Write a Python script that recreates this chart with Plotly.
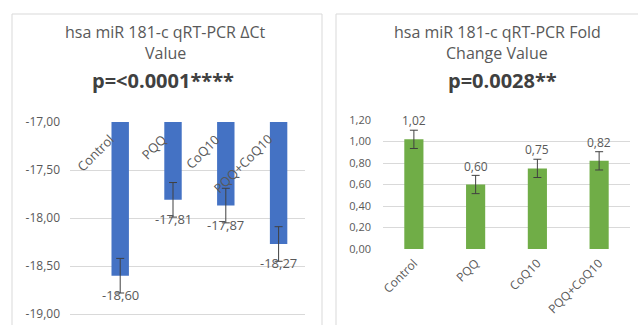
import plotly.graph_objects as go

categories = ["Control", "PQQ", "CoQ10", "PQQ+CoQ10"]
dct_values = [-18.60, -17.81, -17.87, -18.27]
dct_errors = [0.18, 0.18, 0.18, 0.18]
fold_values = [1.02, 0.60, 0.75, 0.82]
fold_errors = [0.085, 0.085, 0.085, 0.085]
left_ticks = [-17.0, -17.5, -18.0, -18.5, -19.0]
left_ticklabels = ["-17,00", "-17,50", "-18,00", "-18,50", "-19,00"]
right_ticks = [0.0, 0.2, 0.4, 0.6, 0.8, 1.0, 1.2]
right_ticklabels = ["0,00", "0,20", "0,40", "0,60", "0,80", "1,00", "1,20"]
left_title_lines = ["hsa miR 181-c qRT-PCR ΔCt", "Value"]
left_p = "p=<0.0001****"
right_title_lines = ["hsa miR 181-c qRT-PCR Fold", "Change Value"]
right_p = "p=0.0028**"


def fmt(v):
    return f"{v:.2f}".replace(".", ",")


W, H = 638, 325
FONT = "Open Sans"
GRAY = "#595959"
GRID = "#D9D9D9"
ERR = "#404040"


def px(x):
    return min(max(x / W, 0.0), 1.0)


def py(y):
    return min(max((H - y) / H, 0.0), 1.0)


fig = go.Figure()

fig.add_trace(go.Bar(
    x=categories, y=dct_values, xaxis="x", yaxis="y",
    marker=dict(color="#4472C4", line=dict(width=0)),
    width=0.33,
    error_y=dict(type="data", array=dct_errors, color=ERR, thickness=1, width=4),
    showlegend=False, hoverinfo="skip",
))
fig.add_trace(go.Bar(
    x=categories, y=fold_values, xaxis="x2", yaxis="y2",
    marker=dict(color="#70AD47", line=dict(width=0)),
    width=0.31,
    error_y=dict(type="data", array=fold_errors, color=ERR, thickness=1, width=4),
    showlegend=False, hoverinfo="skip",
))

annotations = []
for c, v in zip(categories, dct_values):
    annotations.append(dict(x=c, y=v, xref="x", yref="y", text=fmt(v), showarrow=False,
                            yanchor="top", yshift=-8, font=dict(family=FONT, size=13, color=GRAY)))
    annotations.append(dict(x=c, y=-17, xref="x", yref="y", text=c, showarrow=False,
                            textangle=-45, xanchor="right", yanchor="top", xshift=0, yshift=-6,
                            font=dict(family=FONT, size=13, color=GRAY)))
for c, v in zip(categories, fold_values):
    annotations.append(dict(x=c, y=v, xref="x2", yref="y2", text=fmt(v), showarrow=False,
                            yanchor="bottom", yshift=8, font=dict(family=FONT, size=12, color=GRAY)))

title_y = [32, 53]
for line, yy in zip(left_title_lines, title_y):
    annotations.append(dict(x=px(165), y=py(yy), xref="paper", yref="paper", text=line,
                            showarrow=False, xanchor="center", yanchor="middle",
                            font=dict(family=FONT, size=16, color=GRAY)))
for line, yy in zip(right_title_lines, title_y):
    annotations.append(dict(x=px(497), y=py(yy), xref="paper", yref="paper", text=line,
                            showarrow=False, xanchor="center", yanchor="middle",
                            font=dict(family=FONT, size=16, color=GRAY)))
annotations += [
    dict(x=px(163), y=py(80), xref="paper", yref="paper", text="<b>" + left_p + "</b>", showarrow=False,
         xanchor="center", yanchor="middle", font=dict(family=FONT, size=20, color="#404040")),
    dict(x=px(502), y=py(80), xref="paper", yref="paper", text="<b>" + right_p + "</b>", showarrow=False,
         xanchor="center", yanchor="middle", font=dict(family=FONT, size=20, color="#404040")),
]

border = dict(color=GRID, width=1)
shapes = [
    dict(type="line", xref="paper", yref="paper", x0=px(12), x1=px(12), y0=0, y1=py(14), line=border),
    dict(type="line", xref="paper", yref="paper", x0=px(12), x1=px(322), y0=py(14), y1=py(14), line=border),
    dict(type="line", xref="paper", yref="paper", x0=px(322), x1=px(322), y0=0, y1=py(14), line=border),
    dict(type="line", xref="paper", yref="paper", x0=px(336), x1=px(336), y0=0, y1=py(14), line=border),
    dict(type="line", xref="paper", yref="paper", x0=px(336), x1=1, y0=py(14), y1=py(14), line=border),
]

fig.update_layout(
    width=W, height=H, margin=dict(l=0, r=0, t=0, b=0, pad=0, autoexpand=False),
    paper_bgcolor="white", plot_bgcolor="rgba(0,0,0,0)",
    font=dict(family=FONT, size=11, color=GRAY),
    xaxis=dict(domain=[px(70), px(305)], anchor="y", showticklabels=False, showgrid=False,
               zeroline=False, showline=False, ticks="", automargin=False),
    yaxis=dict(domain=[py(317), py(122)], anchor="x", range=[-19.03, -17.0],
               tickvals=left_ticks, ticktext=left_ticklabels, showgrid=True, gridcolor=GRID,
               gridwidth=1, zeroline=False, showline=False, ticks="", ticklabelstandoff=9,
               automargin=False, ticklabeloverflow="allow",
               tickfont=dict(family=FONT, size=12, color=GRAY)),
    xaxis2=dict(domain=[px(383), px(630)], anchor="y2", showgrid=False, zeroline=False,
                showline=False, ticks="", tickangle=-45, automargin=False, ticklabelstandoff=4,
                tickfont=dict(family=FONT, size=12, color=GRAY)),
    yaxis2=dict(domain=[py(249), py(120)], anchor="x2", range=[0, 1.2],
                tickvals=right_ticks, ticktext=right_ticklabels, showgrid=True, gridcolor=GRID,
                gridwidth=1, zeroline=False, showline=False, ticks="", ticklabelstandoff=11,
                automargin=False, tickfont=dict(family=FONT, size=11, color=GRAY)),
    annotations=annotations, shapes=shapes,
)

fig.write_html("out.html", config={"displayModeBar": False},
               post_script="document.body.style.margin='0';document.body.style.overflow='hidden';")
